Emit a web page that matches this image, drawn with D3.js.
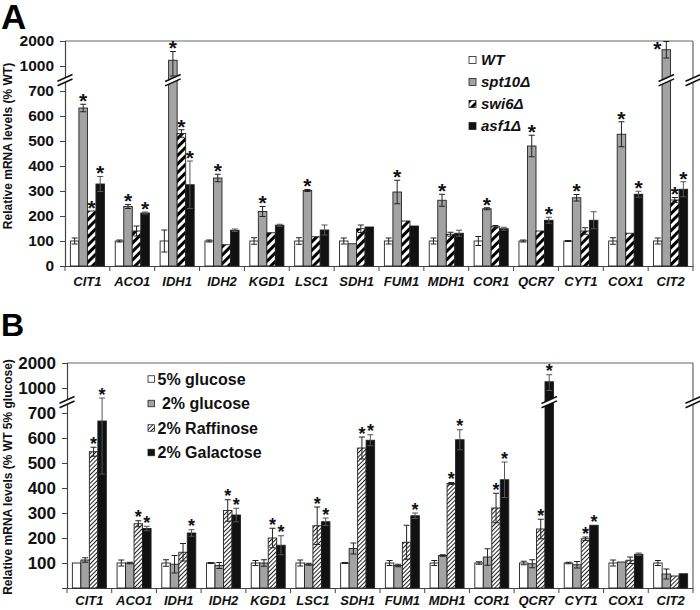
<!DOCTYPE html>
<html><head><meta charset="utf-8">
<script src="https://cdn.jsdelivr.net/npm/d3@7"></script>
<style>body{margin:0;background:#fff;} text{font-family:"Liberation Sans",Arial,sans-serif;}</style>
</head><body><svg id="c" width="700" height="610"></svg>
<script>
// ---------- DATA ----------
const categories = ["CIT1","ACO1","IDH1","IDH2","KGD1","LSC1","SDH1","FUM1","MDH1","COR1","QCR7","CYT1","COX1","CIT2"];
const yTickValues = [0,100,200,300,400,500,600,700,1000,2000];

// Panel A
const seriesA = ["WT","spt10Δ","swi6Δ","asf1Δ"];
const wtA       = [100,100,100,100,100,100,100,100,100,100,100,100,100,100];
const wtErrA    = [12,4,44,4,13,13,12,12,12,18,4,2,13,12];
const spt10A    = [632,238,1230,352,218,302,89,296,263,229,480,273,527,1650];
const spt10ErrA = [15,8,350,15,20,4,0,47,24,4,43,13,50,330];
const swi6A     = [220,140,530,85,133,117,149,180,127,157,140,140,131,264];
const swi6ErrA  = [0,20,15,0,0,0,15,0,8,5,0,13,0,10];
const asf1A     = [328,212,325,143,163,144,156,160,131,149,183,183,287,307];
const asf1ErrA  = [30,4,95,5,4,20,0,0,12,6,12,34,12,30];
const wtStarA    = [0,0,0,0,0,0,0,0,0,0,0,0,0,0];
const spt10StarA = [1,1,1,1,1,1,0,1,1,1,1,1,1,1];
const swi6StarA  = [1,0,1,0,0,0,0,0,0,0,0,0,0,1];
const asf1StarA  = [1,1,1,0,0,0,0,0,0,0,1,0,1,1];

// Panel B
const seriesB = ["5% glucose"," 2% glucose","2% Raffinose","2% Galactose"];
const glu5B     = [100,100,100,100,100,100,100,100,100,100,100,100,100,100];
const glu5ErrB  = [0,12,13,2,10,12,2,10,10,5,7,3,12,10];
const glu2B     = [112,100,95,90,100,95,158,90,130,124,97,93,104,56];
const glu2ErrB  = [9,3,35,12,13,4,22,5,3,33,16,13,0,20];
const raffB     = [545,257,143,310,200,249,560,183,418,320,236,197,111,48];
const raffErrB  = [18,12,35,43,39,75,44,68,4,59,39,7,13,0];
const galB      = [668,238,220,292,171,265,591,289,593,433,1250,251,135,57];
const galErrB   = [212,9,13,27,38,15,22,11,40,71,280,0,5,0];
const glu5StarB = [0,0,0,0,0,0,0,0,0,0,0,0,0,0];
const glu2StarB = [0,0,0,0,0,0,0,0,0,0,0,0,0,0];
const raffStarB = [1,1,0,1,1,1,1,0,1,1,1,1,0,0];
const galStarB  = [1,1,1,1,1,1,1,1,1,1,1,1,0,0];

// ---------- DRAW ----------
const svg = d3.select("#c");
const defs = svg.append("defs");
const pA = defs.append("pattern").attr("id","hatchA").attr("width",6).attr("height",6)
  .attr("patternUnits","userSpaceOnUse").attr("patternTransform","rotate(45)");
pA.append("rect").attr("width",6).attr("height",6).attr("fill","#fff");
pA.append("rect").attr("width",3).attr("height",6).attr("fill","#000");
const pB = defs.append("pattern").attr("id","hatchB").attr("width",3).attr("height",3)
  .attr("patternUnits","userSpaceOnUse").attr("patternTransform","rotate(45)");
pB.append("rect").attr("width",3).attr("height",3).attr("fill","#fff");
pB.append("rect").attr("width",1).attr("height",3).attr("fill","#222");

function breakMark(g, cx, cy, hw){
  const rise = hw*0.45, gap = 2.2;
  g.append("path")
    .attr("d",`M${cx-hw},${cy+rise-gap}L${cx+hw},${cy-rise-gap}L${cx+hw},${cy-rise+gap}L${cx-hw},${cy+rise+gap}Z`)
    .attr("fill","#fff").attr("stroke","none");
  [-gap,gap].forEach(o=>{
    g.append("line").attr("x1",cx-hw).attr("y1",cy+rise+o).attr("x2",cx+hw).attr("y2",cy-rise+o)
      .attr("stroke","#111").attr("stroke-width",1.6);
  });
}

function drawPanel(cfg){
  const g = svg.append("g");
  const x0 = d3.scaleBand().domain(categories).range([cfg.left, cfg.right]).paddingInner(0.24).paddingOuter(0.12);
  const x1 = d3.scaleBand().domain(cfg.series).range([0, x0.bandwidth()]).padding(0);
  const y = d3.scaleLinear().domain([0,700,1000,2000]).range([cfg.bottom, cfg.bottom-175, cfg.bottom-200, cfg.top]);
  const breakY = y(830);

  // frame (top & right)
  g.append("line").attr("x1",cfg.left).attr("x2",cfg.right).attr("y1",cfg.top).attr("y2",cfg.top).attr("stroke","#666").attr("stroke-width",1.2);
  g.append("line").attr("x1",cfg.right).attr("x2",cfg.right).attr("y1",cfg.top).attr("y2",cfg.bottom).attr("stroke","#666").attr("stroke-width",1.2);

  // y axis
  const ya = g.append("g").attr("transform",`translate(${cfg.left},0)`)
    .call(d3.axisLeft(y).tickValues(cfg.ticks).tickFormat(d3.format("d")).tickSize(5).tickPadding(6));
  ya.select(".domain").attr("stroke","#444").attr("stroke-width",1.2);
  ya.selectAll(".tick line").attr("stroke","#444");
  ya.selectAll(".tick text").attr("font-size",cfg.tickFont).attr("font-weight","bold").attr("fill","#111")
    .attr("font-family","'Liberation Sans',Arial,sans-serif");

  // x axis
  const xa = g.append("g").attr("transform",`translate(0,${cfg.bottom})`)
    .call(d3.axisBottom(x0).tickSize(0).tickPadding(cfg.xLabelPad));
  xa.select(".domain").attr("stroke","#444").attr("stroke-width",1.2);
  xa.selectAll(".tick text").attr("font-size",13).attr("font-weight","bold").attr("font-style","italic")
    .attr("fill","#111").attr("font-family","'Liberation Sans',Arial,sans-serif");
  const bounds = d3.range(categories.length+1).map(i => cfg.left + i*x0.step());
  g.selectAll(".bt").data(bounds).join("line")
    .attr("x1",d=>d).attr("x2",d=>d).attr("y1",cfg.bottom).attr("y2",cfg.bottom+5).attr("stroke","#444");

  // bars
  const bw = x1.bandwidth();
  cfg.values.forEach((vals, s) => {
    categories.forEach((c, i) => {
      const v = vals[i], e = cfg.errs[s][i];
      const bx = x0(c) + x1(cfg.series[s]);
      g.append("rect").attr("x",bx).attr("y",y(v)).attr("width",bw).attr("height",y(0)-y(v))
        .attr("fill",cfg.fills[s]).attr("stroke","#222").attr("stroke-width",0.9);
      const cx = bx + bw/2;
      if (v > 800) breakMark(g, cx, breakY, bw/2+3.5);
      let topY = y(v);
      if (e > 0){
        const ec = s===3 ? "#555" : "#222";
        const t = y(v+e), b = y(Math.max(0,v-e));
        g.append("line").attr("x1",cx).attr("x2",cx).attr("y1",t).attr("y2",b).attr("stroke",ec).attr("stroke-width",1);
        [t,b].forEach(yy => g.append("line").attr("x1",cx-3).attr("x2",cx+3).attr("y1",yy).attr("y2",yy).attr("stroke",ec).attr("stroke-width",1));
        topY = t;
      }
      if (cfg.stars[s][i]){
        const beside = topY <= cfg.top + 2;
        g.append("text").text("*")
          .attr("x", beside ? cx-9 : cx)
          .attr("y", beside ? y(v)+6 : topY - 5 + 0.42*cfg.starFont)
          .attr("text-anchor","middle").attr("font-size",cfg.starFont).attr("font-weight","bold").attr("fill","#111");
      }
    });
  });

  // axis breaks
  breakMark(g, cfg.left, breakY, 7.5);
  breakMark(g, cfg.right, breakY, 7.5);

  // legend
  cfg.series.forEach((s, k) => {
    const ly = cfg.legY + k*cfg.legStep;
    g.append("rect").attr("x",cfg.legX).attr("y",ly-cfg.legSq/2).attr("width",cfg.legSq).attr("height",cfg.legSq)
      .attr("fill",cfg.fills[k]).attr("stroke","#222").attr("stroke-width",0.8);
    g.append("text").text(s).attr("x",cfg.legX+cfg.legSq+cfg.legGap).attr("y",ly+cfg.legFont*0.36)
      .attr("font-size",cfg.legFont).attr("font-weight","bold").attr("font-style",cfg.legItalic?"italic":"normal")
      .attr("fill","#111").style("white-space","pre");
  });

  // y title
  g.append("text").text(cfg.yTitle)
    .attr("transform",`translate(${cfg.titleX},${cfg.titleY}) rotate(-90)`)
    .attr("text-anchor","middle").attr("font-size",12).attr("font-weight","bold").attr("fill","#111");

  // panel letter
  g.append("text").text(cfg.letter).attr("x",1).attr("y",cfg.letterY)
    .attr("font-size",cfg.letterSize).attr("font-weight","bold").attr("fill","#000");
}

drawPanel({
  left:65, right:693, top:41, bottom:266,
  series: seriesA,
  values:[wtA, spt10A, swi6A, asf1A],
  errs:[wtErrA, spt10ErrA, swi6ErrA, asf1ErrA],
  stars:[wtStarA, spt10StarA, swi6StarA, asf1StarA],
  fills:["#fff","#a3a3a3","url(#hatchA)","#111"],
  ticks: yTickValues, tickFont:15.5, xLabelPad:11,
  starFont:21,
  legX:469, legY:60, legStep:22, legSq:7, legGap:5, legFont:15, legItalic:true,
  yTitle:"Relative mRNA levels (% WT)", titleX:12, titleY:146,
  letter:"A", letterY:29, letterSize:35
});

drawPanel({
  left:67, right:693, top:363, bottom:588,
  series: seriesB,
  values:[glu5B, glu2B, raffB, galB],
  errs:[glu5ErrB, glu2ErrB, raffErrB, galErrB],
  stars:[glu5StarB, glu2StarB, raffStarB, galStarB],
  fills:["#fff","#a3a3a3","url(#hatchB)","#111"],
  ticks: yTickValues.filter(d=>d>0), tickFont:17, xLabelPad:8,
  starFont:18,
  legX:148, legY:379, legStep:24.5, legSq:6.5, legGap:3, legFont:16, legItalic:false,
  yTitle:"Relative mRNA levels (% WT 5% glucose)", titleX:12, titleY:477,
  letter:"B", letterY:336, letterSize:32
});
</script></body></html>
